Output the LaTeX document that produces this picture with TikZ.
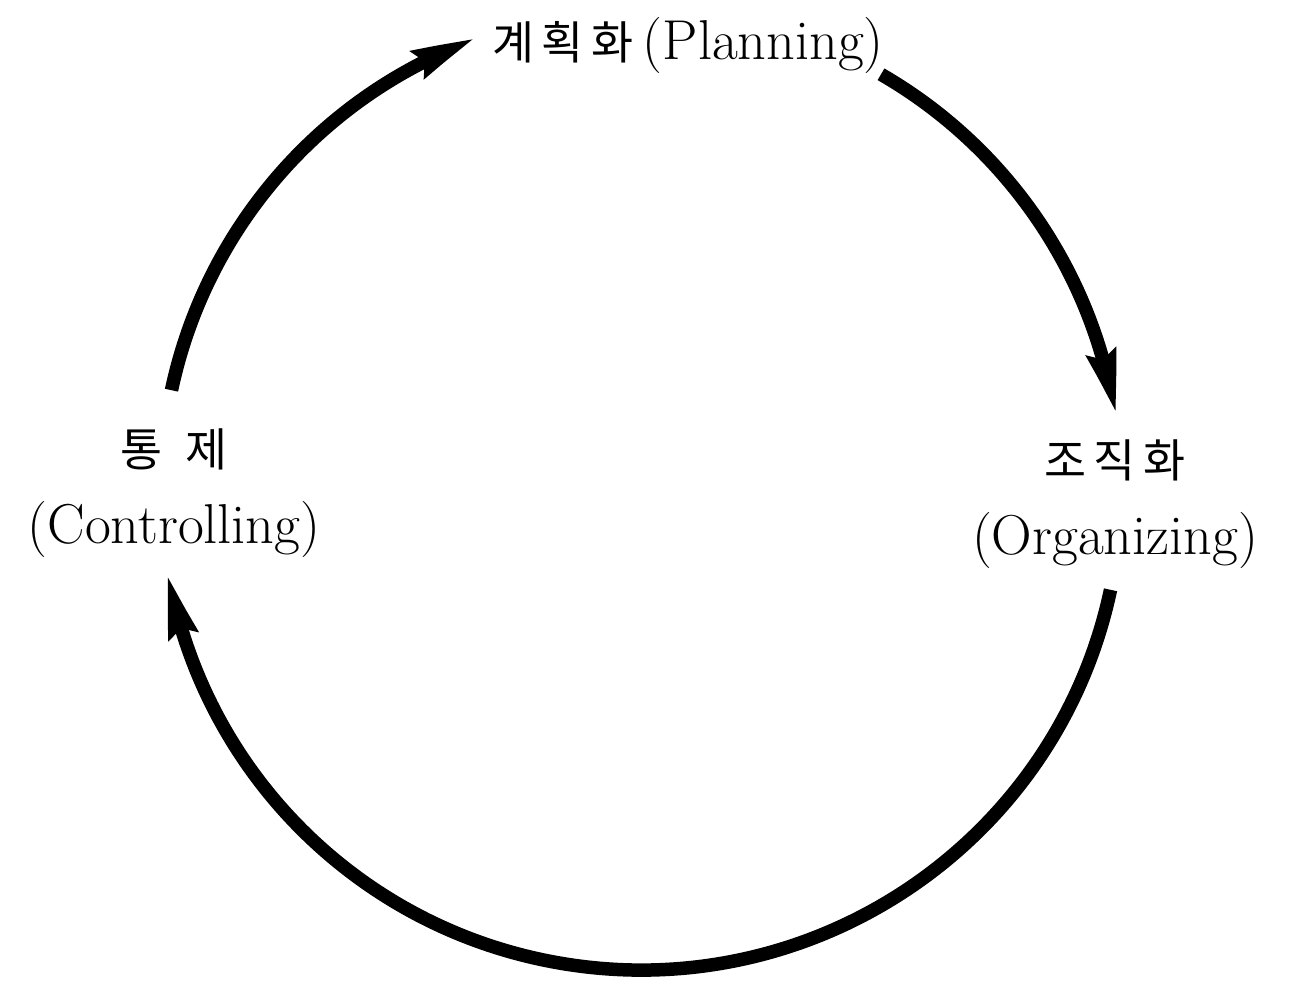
\documentclass[tikz,border=0pt]{standalone}
\usepackage{fontspec}
\newfontfamily\kor{Noto Sans CJK KR}
\usetikzlibrary{arrows.meta,calc,bending}
\tikzset{
  cyc/.style={line width=0.27cm, -{Stealth[length=1.25cm, width=0.56cm, inset=0.12cm, bend]}},
  lbl/.style={inner sep=0pt, align=center, font=\fontsize{32}{44}\selectfont},
}
\newcommand{\kt}[1]{{\kor\fontsize{26}{30}\selectfont #1}}
\begin{document}
\begin{tikzpicture}[x=0.02cm, y=0.02cm]
\useasboundingbox (0,0) rectangle (1297,987);
\coordinate (O) at (641,497);
% labels
\node[lbl] (plan) at (688,942) {\kt{계\,획\,화}\,(Planning)};
\node[lbl] (ctrl) at (174,494) {\kt{통\enspace 제}\\(Controlling)};
\node[lbl] (org) at (1115,483) {\kt{조\,직\,화}\\(Organizing)};
% arc end points
\coordinate (a1s) at ($(O)+(168:480)$);
\coordinate (a2s) at ($(O)+(60:480)$);
\coordinate (a3s) at ($(O)+(-12:480)$);
% arcs
\draw[cyc] (a1s) arc[start angle=168, end angle=110, radius=480];
\draw[cyc] (a2s) arc[start angle=60, end angle=9, radius=480];
\draw[cyc] (a3s) arc[start angle=-12, end angle=-170, radius=480];
\end{tikzpicture}
\end{document}
